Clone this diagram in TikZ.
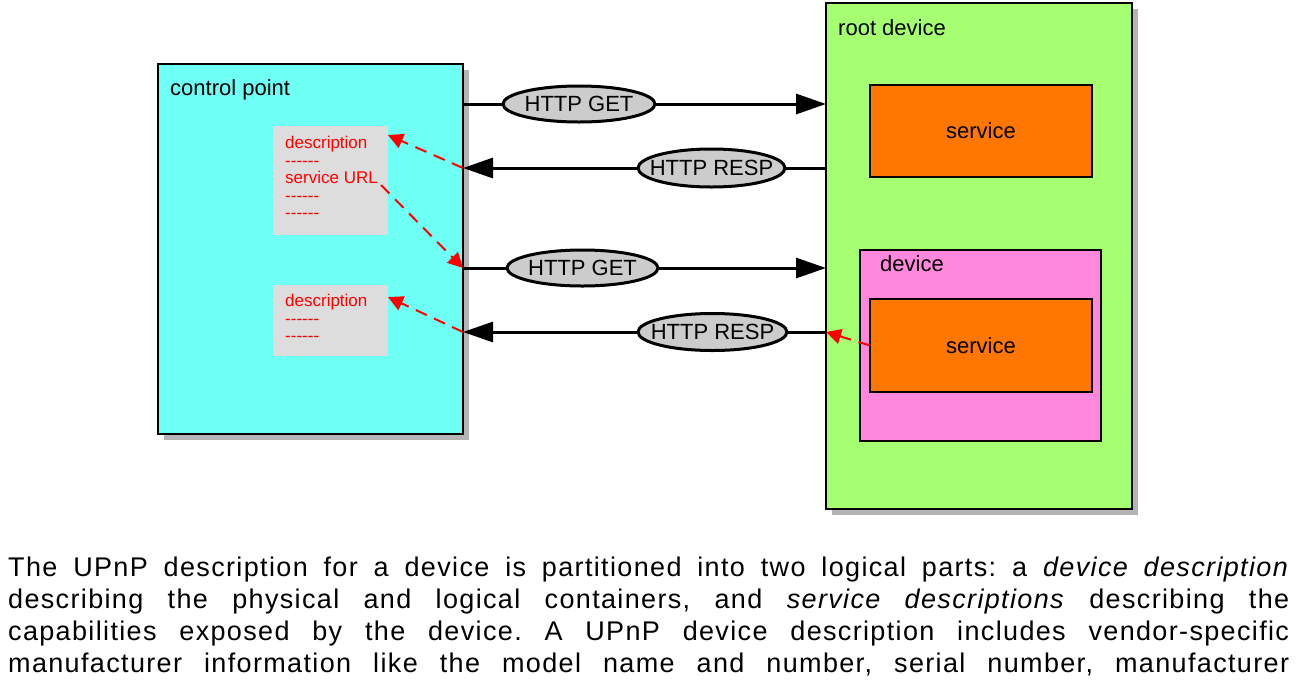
\documentclass[tikz,border=0pt]{standalone}
\usepackage{fontspec}
\setmainfont{Liberation Sans}
\newfontfamily\parafont{Liberation Sans}[LetterSpace=5]
\usetikzlibrary{arrows.meta,shapes.geometric,shadows}
\definecolor{cpcyan}{RGB}{110,255,245}
\definecolor{rdgreen}{RGB}{166,255,112}
\definecolor{svorange}{RGB}{255,119,0}
\definecolor{dvpink}{RGB}{255,136,221}
\definecolor{descgray}{RGB}{221,221,221}
\definecolor{ellgray}{RGB}{204,204,204}
\definecolor{shgray}{RGB}{180,180,180}
\newcommand\sixdash{-{}-{}-{}-{}-{}-}
\frenchspacing
\begin{document}
\begin{tikzpicture}[x=1pt,y=-1pt,
  box/.style={draw=black,line width=2pt,rectangle,inner sep=0pt,outer sep=0pt},
  shbox/.style={box,drop shadow={shadow xshift=6pt,shadow yshift=-6pt,opacity=1,fill=shgray}},
  descbox/.style={rectangle,fill=descgray,inner sep=0pt,outer sep=0pt},
  lbl/.style={font=\fontsize{22}{26}\selectfont,inner sep=0pt,anchor=base west},
  msg/.style={ellipse,draw=black,line width=3pt,fill=ellgray,inner xsep=-10pt,inner ysep=0pt,outer sep=0pt,
      minimum height=36pt,font=\fontsize{22}{26}\selectfont},
  blk/.style={draw=black,line width=3pt},
  blkarr/.style={blk,-{Triangle[length=30pt,width=20pt]}},
  redarr/.style={draw=red,line width=2pt,dash pattern=on 12pt off 8pt,
      -{Triangle[length=15pt,width=15pt]}},
  redtxt/.style={font=\fontsize{17}{17.5}\selectfont,text=red,align=left,inner sep=0pt,anchor=north west}]
\useasboundingbox (0,0) rectangle (1306,681);

% control point
\node[shbox,fill=cpcyan,minimum width=305pt,minimum height=370pt] (cp) at (310.5,249) {};
\node[lbl] (cplbl) at (170,95) {control point};
\node[descbox,minimum width=115pt,minimum height=109pt] (desc1) at (330.5,180.5) {};
\node[redtxt] (desc1txt) at (285,136) {description\\\sixdash\\service URL\\\sixdash\\\sixdash};
\node[descbox,minimum width=115pt,minimum height=71pt] (desc2) at (330.5,320.5) {};
\node[redtxt] (desc2txt) at (285,294) {description\\\sixdash\\\sixdash};

% root device
\node[shbox,fill=rdgreen,minimum width=306pt,minimum height=506pt] (root) at (979,256) {};
\node[lbl] (rootlbl) at (838,35) {root device};
\node[box,fill=svorange,minimum width=222pt,minimum height=92pt,font=\fontsize{22}{26}\selectfont] (svc1) at (981,131) {service};
\node[box,fill=dvpink,minimum width=241pt,minimum height=191pt] (dev) at (980.5,345.5) {};
\node[lbl] (devlbl) at (880,271) {device};
\node[box,fill=svorange,minimum width=222pt,minimum height=93pt,font=\fontsize{22}{26}\selectfont] (svc2) at (981,345.5) {service};

% messages
\node[msg,minimum width=152pt] (get1) at (579,104) {HTTP GET};
\node[msg,minimum width=147pt,minimum height=38pt] (resp1) at (711.5,168) {HTTP RESP};
\node[msg,minimum width=151pt] (get2) at (582.5,268) {HTTP GET};
\node[msg,minimum width=149pt,minimum height=37pt] (resp2) at (712.5,332) {HTTP RESP};

\draw[blk] (cp.east |- get1) -- (get1);
\draw[blkarr] (get1) -- (root.west |- get1);
\draw[blk] (root.west |- resp1) -- (resp1);
\draw[blkarr] (resp1) -- (cp.east |- resp1);
\draw[blk] (cp.east |- get2) -- (get2);
\draw[blkarr] (get2) -- (root.west |- get2);
\draw[blk] (root.west |- resp2) -- (resp2);
\draw[blkarr] (resp2) -- (cp.east |- resp2);

% red dashed references
\coordinate (urlend) at (381,185);
\draw[redarr] (cp.east |- resp1) -- ([yshift=-9pt]desc1.north east);
\draw[redarr] (urlend) -- (cp.east |- get2);
\draw[redarr] (cp.east |- resp2) -- ([yshift=-12pt]desc2.north east);
\draw[redarr] (svc2.west) -- (root.west |- resp2);

% caption paragraph
\node[inner sep=0pt,anchor=base west,align=left,font=\parafont\fontsize{27}{32}\selectfont] (para) at (8,672)
{\makebox[1281pt][s]{The UPnP description for a device is partitioned into two logical parts: a \textit{device description}}\\
\makebox[1281pt][s]{describing the physical and logical containers, and \textit{service descriptions} describing the}\\
\makebox[1281pt][s]{capabilities exposed by the device. A UPnP device description includes vendor-specific}\\
\makebox[1281pt][s]{manufacturer information like the model name and number, serial number, manufacturer}};
\end{tikzpicture}
\end{document}
